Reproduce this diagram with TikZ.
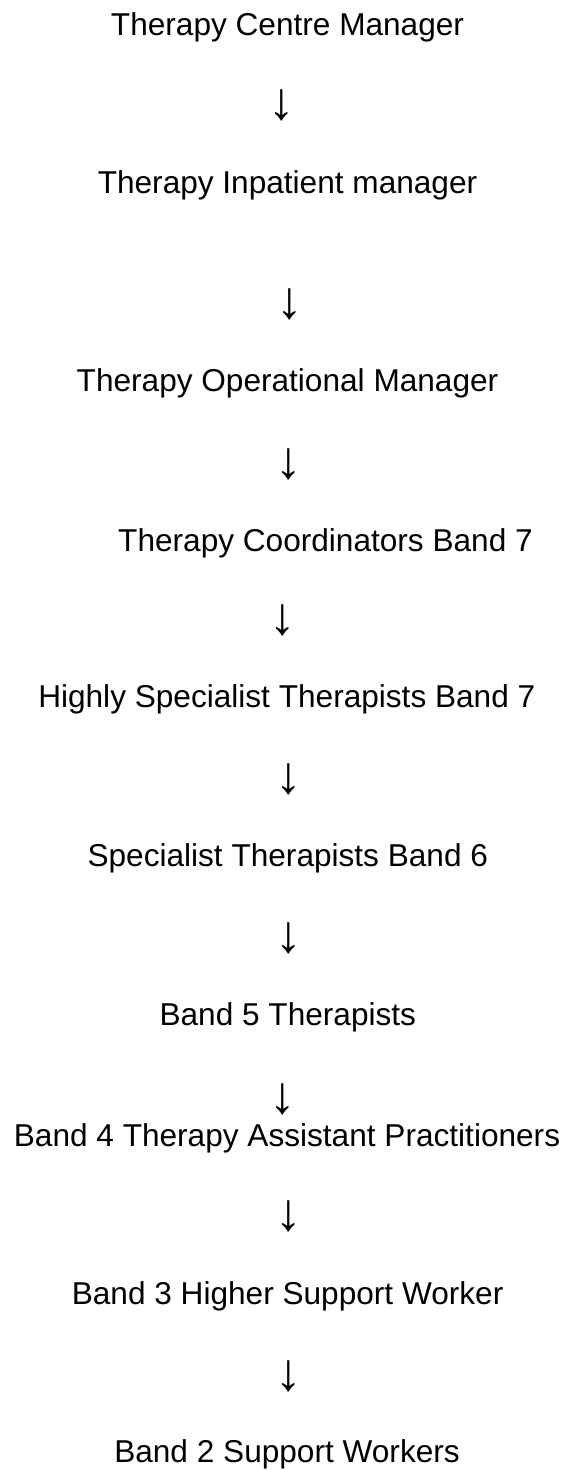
\documentclass[tikz,border=0pt]{standalone}
\usepackage{fontspec}
\setmainfont{Liberation Sans}
\usepackage{tikz}

\begin{document}
\begin{tikzpicture}[x=1pt,y=-1pt,
  rolelabel/.style={anchor=base, inner sep=0pt, font=\fontsize{31.6}{36}\selectfont},
  downarrow/.style={anchor=center, inner sep=0pt, font=\fontsize{53}{60}\selectfont}]
\useasboundingbox (0,0) rectangle (569,1470);
\node[rolelabel] (centremgr) at (287.5,35.5) {Therapy Centre Manager};
\node[downarrow] (arr1) at (281.7,105.5) {↓};
\node[rolelabel] (inptmgr) at (287.5,193) {Therapy Inpatient manager};
\node[downarrow] (arr2) at (289.5,304.5) {↓};
\node[rolelabel] (opsmgr) at (287.5,391.7) {Therapy Operational Manager};
\node[downarrow] (arr3) at (289,464) {↓};
\node[rolelabel] (coord) at (325.5,551) {Therapy Coordinators Band 7};
\node[downarrow] (arr4) at (282.5,620) {↓};
\node[rolelabel] (hst) at (286.8,707.5) {Highly Specialist Therapists Band 7};
\node[downarrow] (arr5) at (289,779) {↓};
\node[rolelabel] (st6) at (287.8,866) {Specialist Therapists Band 6};
\node[downarrow] (arr6) at (289,938) {↓};
\node[rolelabel] (band5) at (287.8,1025) {Band 5 Therapists};
\node[downarrow] (arr7) at (282.5,1099) {↓};
\node[rolelabel] (band4) at (287,1146) {Band 4 Therapy Assistant Practitioners};
\node[downarrow] (arr8) at (289,1216.5) {↓};
\node[rolelabel] (band3) at (287.6,1304) {Band 3 Higher Support Worker};
\node[downarrow] (arr9) at (289,1376.5) {↓};
\node[rolelabel] (band2) at (287,1462.7) {Band 2 Support Workers};
\end{tikzpicture}
\end{document}
